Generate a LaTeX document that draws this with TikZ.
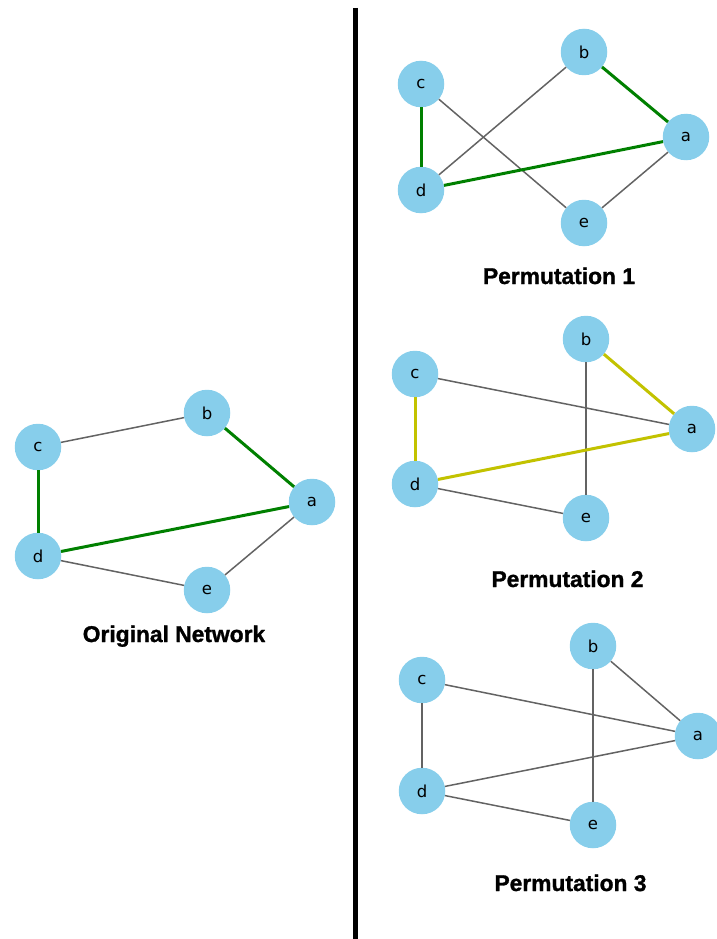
\documentclass[tikz,border=0pt]{standalone}
\usepackage{fontspec}
\setmainfont{Liberation Sans}
\newfontfamily\nodefont{DejaVu Sans}
\newfontfamily\capfont[FakeBold=1.2]{Liberation Sans Bold}
\definecolor{nodeblue}{HTML}{87CEEB}
\definecolor{edgegray}{HTML}{636363}
\definecolor{hlgreen}{HTML}{008000}
\definecolor{hlyellow}{HTML}{C2C200}
\begin{document}
\begin{tikzpicture}[x=1pt,y=-1pt,
  vtx/.style={circle,fill=nodeblue,minimum size=46.5pt,inner sep=0pt,font=\nodefont\fontsize{16.5}{18}\selectfont},
  plain/.style={draw=edgegray,line width=1.5pt},
  greenedge/.style={draw=hlgreen,line width=3pt},
  yellowedge/.style={draw=hlyellow,line width=3pt},
  caption/.style={anchor=base,font=\capfont\fontsize{22.8}{26}\selectfont},
  divider/.style={line width=5.5pt,black}]
\useasboundingbox (0,0) rectangle (716,939);
% divider
\coordinate (divtop) at (355.5,8);
\coordinate (divbot) at (355.5,939);
\draw[divider] (divtop) -- (divbot);

% Original network
\node[vtx] (oa) at (312,502) {a};
\node[vtx] (ob) at (207,413) {b};
\node[vtx] (oc) at (38,447) {c};
\node[vtx] (od) at (38,556) {d};
\node[vtx] (oe) at (207,590) {e};
\draw[plain] (oc) -- (ob);
\draw[plain] (od) -- (oe);
\draw[plain] (oe) -- (oa);
\draw[greenedge] (ob) -- (oa);
\draw[greenedge] (oc) -- (od);
\draw[greenedge] (od) -- (oa);
\node[caption] (ocap) at (174,642) {Original Network};

% Permutation 1
\node[vtx] (pa) at (686,137) {a};
\node[vtx] (pb) at (584,52) {b};
\node[vtx] (pc) at (421,84) {c};
\node[vtx] (pd) at (421,190) {d};
\node[vtx] (pe) at (584,223) {e};
\draw[plain] (pd) -- (pb);
\draw[plain] (pc) -- (pe);
\draw[plain] (pe) -- (pa);
\draw[greenedge] (pb) -- (pa);
\draw[greenedge] (pc) -- (pd);
\draw[greenedge] (pd) -- (pa);
\node[caption] (pcap) at (559,284) {Permutation 1};

% Permutation 2
\node[vtx] (qa) at (692,429) {a};
\node[vtx] (qb) at (586,339) {b};
\node[vtx] (qc) at (415,374) {c};
\node[vtx] (qd) at (415,484) {d};
\node[vtx] (qe) at (586,518) {e};
\draw[plain] (qc) -- (qa);
\draw[plain] (qb) -- (qe);
\draw[plain] (qd) -- (qe);
\draw[yellowedge] (qb) -- (qa);
\draw[yellowedge] (qc) -- (qd);
\draw[yellowedge] (qd) -- (qa);
\node[caption] (qcap) at (567.5,587) {Permutation 2};

% Permutation 3
\node[vtx] (ra) at (698,736) {a};
\node[vtx] (rb) at (593,646) {b};
\node[vtx] (rc) at (422,680) {c};
\node[vtx] (rd) at (422,791) {d};
\node[vtx] (re) at (593,825) {e};
\draw[plain] (rc) -- (ra);
\draw[plain] (rc) -- (rd);
\draw[plain] (rb) -- (ra);
\draw[plain] (rb) -- (re);
\draw[plain] (rd) -- (ra);
\draw[plain] (rd) -- (re);
\node[caption] (rcap) at (570.5,891) {Permutation 3};
\end{tikzpicture}
\end{document}
